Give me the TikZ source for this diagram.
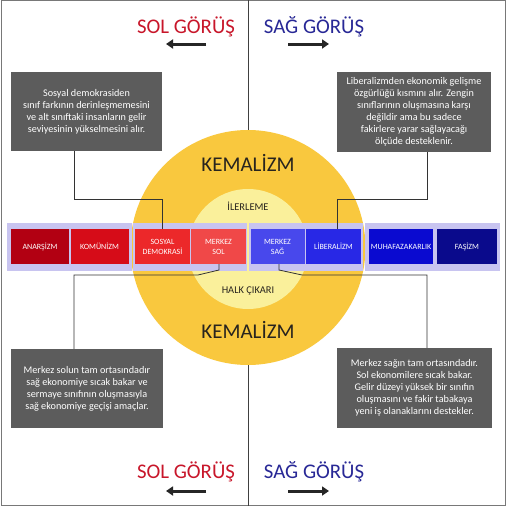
\documentclass[tikz,border=0pt]{standalone}
\usepackage{fontspec}
\setmainfont{Carlito}
\usetikzlibrary{arrows.meta}
\definecolor{frame}{RGB}{120,120,120}
\definecolor{boxgray}{RGB}{92,92,92}
\definecolor{outery}{RGB}{249,200,62}
\definecolor{innery}{RGB}{250,240,155}
\definecolor{band}{RGB}{200,196,240}
\definecolor{solred}{RGB}{200,22,42}
\definecolor{sagblue}{RGB}{40,40,150}
\definecolor{cA}{RGB}{178,0,18}
\definecolor{cK}{RGB}{214,12,24}
\definecolor{cS}{RGB}{236,40,42}
\definecolor{cMS}{RGB}{240,72,72}
\definecolor{cMG}{RGB}{72,72,236}
\definecolor{cL}{RGB}{40,40,230}
\definecolor{cMU}{RGB}{10,10,208}
\definecolor{cF}{RGB}{10,10,140}
\definecolor{textdark}{RGB}{40,36,30}
\begin{document}
\begin{tikzpicture}[x=1pt,y=-1pt,
  title/.style={font=\fontsize{20.8}{24}\selectfont, inner sep=0pt, anchor=center},
  infobox/.style={fill=boxgray, text=white, align=center, inner sep=0pt,
    font=\fontsize{10.2}{12}\selectfont},
  ideo/.style={text=white, align=center, inner sep=0pt,
    font=\fontsize{8}{10}\selectfont},
  kem/.style={font=\fontsize{21}{24}\selectfont, text=textdark, inner sep=0pt},
  small/.style={font=\fontsize{10.4}{12}\selectfont, text=textdark, inner sep=0pt},
  conn/.style={draw=black!80, line width=0.8pt},
  bigarrow/.style={draw=black!85, line width=3pt, -{Triangle[length=7pt,width=9pt]}}
]
\useasboundingbox (0,0) rectangle (506,506);
\fill[white] (0,0) rectangle (506,506);
\draw[frame, line width=0.8pt] (1,0.5) rectangle (505,505.5);
% centre line
\coordinate (ltop) at (248,0);
\coordinate (lbot) at (248,506);
\draw[black!75, line width=0.8pt] (ltop) -- (lbot);
% circles
\fill[outery] (248,247.5) circle (117.5);
\fill[innery] (248,249) circle (60);
% band
\fill[band] (7,223) rectangle (131.5,271);
\fill[band] (133,223) rectangle (247.3,271);
\fill[band] (248.7,223) rectangle (363.3,271);
\fill[band] (364.7,223) rectangle (500,271);
% ideology boxes
\node[ideo, fill=cA, minimum width=58pt, minimum height=35pt] (an) at (40,246.5) {ANARŞİZM};
\node[ideo, fill=cK, minimum width=58pt, minimum height=35pt] (ko) at (99.5,246.5) {KOMÜNİZM};
\node[ideo, fill=cS, minimum width=55pt, minimum height=35pt] (sd) at (162.5,246.5) {SOSYAL\\DEMOKRASİ};
\node[ideo, fill=cMS, minimum width=55pt, minimum height=35pt] (ms) at (218.5,246.5) {MERKEZ\\SOL};
\node[ideo, fill=cMG, minimum width=54pt, minimum height=35pt] (mg) at (277.5,246.5) {MERKEZ\\SAĞ};
\node[ideo, fill=cL, minimum width=55pt, minimum height=35pt] (li) at (333.5,246.5) {LİBERALİZM};
\node[ideo, fill=cMU, minimum width=64pt, minimum height=35pt] (mu) at (401,246.5) {MUHAFAZAKARLIK};
\node[ideo, fill=cF, minimum width=60pt, minimum height=35pt] (fa) at (467,246.5) {FAŞİZM};
% circle labels
\node[kem] (k1) at (248,163) {KEMALİZM};
\node[kem] (k2) at (248,330) {KEMALİZM};
\node[small] (il) at (248,206) {İLERLEME};
\node[small] (hc) at (248,291) {HALK ÇIKARI};
% info boxes
\node[infobox, minimum width=151pt, minimum height=79pt] (b1) at (86.5,111.5)
  {Sosyal demokrasiden\\sınıf farkının derinleşmemesini\\ve alt sınıftaki insanların gelir\\seviyesinin yükselmesini alır.};
\node[infobox, minimum width=154pt, minimum height=80pt] (b2) at (414,112)
  {Liberalizmden ekonomik gelişme\\özgürlüğü kısmını alır. Zengin\\sınıflarının oluşmasına karşı\\değildir ama bu sadece\\fakirlere yarar sağlayacağı\\ölçüde desteklenir.};
\node[infobox, minimum width=152pt, minimum height=79pt] (b3) at (87,388.5)
  {Merkez solun tam ortasındadır\\sağ ekonomiye sıcak bakar ve\\sermaye sınıfının oluşmasıyla\\sağ ekonomiye geçişi amaçlar.};
\node[infobox, minimum width=155pt, minimum height=80pt] (b4) at (414.5,388)
  {Merkez sağın tam ortasındadır.\\Sol ekonomilere sıcak bakar.\\Gelir düzeyi yüksek bir sınıfın\\oluşmasını ve fakir tabakaya\\yeni iş olanaklarını destekler.};
% connectors
\draw[conn] (b1.south -| 74,0) |- (162,199) -- (sd.north -| 162,0);
\draw[conn] (b2.south -| 427,0) |- (337,199) -- (li.north -| 337,0);
\draw[conn] (ms.south -| 219,0) -- (219,270) -- (198,275) -- (74,275) -- (b3.north -| 74,0);
\draw[conn] (mg.south -| 279,0) -- (279,270) -- (302,275) -- (427,275) -- (b4.north -| 427,0);
% titles
\node[title, text=solred] (t1) at (186,27) {SOL GÖRÜŞ};
\node[title, text=sagblue] (t2) at (314,27) {SAĞ GÖRÜŞ};
\node[title, text=solred] (t3) at (186,472) {SOL GÖRÜŞ};
\node[title, text=sagblue] (t4) at (314,472) {SAĞ GÖRÜŞ};
\coordinate (a1s) at (206,44); \coordinate (a1e) at (166,44);
\coordinate (a2s) at (288,44); \coordinate (a2e) at (329,44);
\coordinate (a3s) at (206,491); \coordinate (a3e) at (166,491);
\coordinate (a4s) at (288,491); \coordinate (a4e) at (329,491);
\draw[bigarrow] (a1s) -- (a1e);
\draw[bigarrow] (a2s) -- (a2e);
\draw[bigarrow] (a3s) -- (a3e);
\draw[bigarrow] (a4s) -- (a4e);
\end{tikzpicture}
\end{document}
